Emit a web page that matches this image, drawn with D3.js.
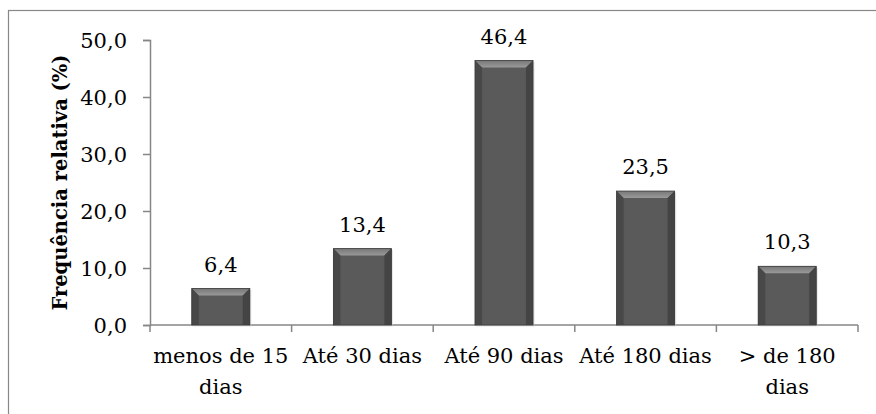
<!DOCTYPE html>
<html>
<head>
<meta charset="utf-8">
<script src="https://cdn.jsdelivr.net/npm/d3@7"></script>
<style>
  body { margin: 0; background: #fff; }
</style>
</head>
<body>
<div id="chart"></div>
<script>
// data
const categories = ['menos de 15 dias', 'Até 30 dias', 'Até 90 dias', 'Até 180 dias', '> de 180 dias']
const categoryLines = [['menos de 15', 'dias'], ['Até 30 dias'], ['Até 90 dias'], ['Até 180 dias'], ['> de 180', 'dias']]
const values = [6.4, 13.4, 46.4, 23.5, 10.3]
const yTicks = [0, 10, 20, 30, 40, 50]
const yTitle = 'Frequência relativa (%)'

const FONT = '"DejaVu Serif", serif'
const dimensions = {
  width: 876,
  height: 414,
  margin: { top: 40, right: 18, bottom: 89, left: 150 }
}
const AXIS_COLOR = '#868686'
const fmt = d => d.toFixed(1).replace('.', ',')

const wrapper = d3.select('#chart').append('svg')
  .attr('width', dimensions.width)
  .attr('height', dimensions.height)
  .style('font-family', FONT)

// outer chart border (only left / top visible in the crop)
wrapper.append('rect')
  .attr('x', 8.5).attr('y', 10.5)
  .attr('width', 900).attr('height', 450)
  .attr('fill', 'none')
  .attr('stroke', '#888')
  .attr('stroke-width', 1.2)

const innerW = dimensions.width - dimensions.margin.left - dimensions.margin.right
const innerH = dimensions.height - dimensions.margin.top - dimensions.margin.bottom

const bounds = wrapper.append('g')
  .attr('transform', `translate(${dimensions.margin.left}, ${dimensions.margin.top})`)

const xScale = d3.scaleBand()
  .domain(categories)
  .range([0, innerW])
  .padding(0)
const yScale = d3.scaleLinear()
  .domain([0, 50])
  .range([innerH, 0])

// gradients for the bevel look
const defs = wrapper.append('defs')
const topGrad = defs.append('linearGradient').attr('id', 'topBevel')
  .attr('x1', 0).attr('y1', 0).attr('x2', 0).attr('y2', 1)
topGrad.append('stop').attr('offset', '0%').attr('stop-color', '#777')
topGrad.append('stop').attr('offset', '100%').attr('stop-color', '#9a9a9a')
const bodyGrad = defs.append('linearGradient').attr('id', 'bodyGrad')
  .attr('x1', 0).attr('y1', 0).attr('x2', 1).attr('y2', 0)
bodyGrad.append('stop').attr('offset', '0%').attr('stop-color', '#4c4c4c')
bodyGrad.append('stop').attr('offset', '15%').attr('stop-color', '#5a5a5a')
bodyGrad.append('stop').attr('offset', '85%').attr('stop-color', '#5a5a5a')
bodyGrad.append('stop').attr('offset', '100%').attr('stop-color', '#4c4c4c')

// y axis
const yAxis = bounds.append('g')
  .call(d3.axisLeft(yScale).tickValues(yTicks).tickFormat(fmt).tickSize(7).tickPadding(16))
yAxis.attr('font-family', null).attr('font-size', null)
yAxis.select('.domain').attr('stroke', AXIS_COLOR).attr('stroke-width', 1.5)
yAxis.selectAll('.tick line').attr('stroke', AXIS_COLOR).attr('stroke-width', 1.5)
yAxis.selectAll('.tick text')
  .style('font-family', FONT)
  .style('font-size', '21px')
  .attr('fill', '#000')
  .attr('dy', '0.35em')

// x axis: baseline + boundary ticks
const xAxis = bounds.append('g').attr('transform', `translate(0, ${innerH})`)
xAxis.append('line')
  .attr('x1', 0).attr('x2', innerW)
  .attr('stroke', AXIS_COLOR).attr('stroke-width', 1.5)
const boundaries = categories.map(c => xScale(c)).concat([innerW])
xAxis.selectAll('.xtick')
  .data(boundaries)
  .join('line')
  .attr('class', 'xtick')
  .attr('x1', d => d).attr('x2', d => d)
  .attr('y1', 0).attr('y2', 7)
  .attr('stroke', AXIS_COLOR).attr('stroke-width', 1.5)

xAxis.selectAll('.xlabel')
  .data(categories)
  .join('text')
  .attr('class', 'xlabel')
  .attr('text-anchor', 'middle')
  .style('font-family', FONT)
  .style('font-size', '21px')
  .each(function (d, i) {
    const t = d3.select(this)
    categoryLines[i].forEach((line, j) => {
      t.append('tspan')
        .attr('x', xScale(d) + xScale.bandwidth() / 2)
        .attr('y', 38 + j * 31)
        .text(line)
    })
  })

// bars
const barW = xScale.bandwidth() * 0.41
const bev = 7
const bars = bounds.selectAll('.bar')
  .data(values)
  .join('g')
  .attr('class', 'bar')
  .attr('transform', (d, i) => `translate(${xScale(categories[i]) + (xScale.bandwidth() - barW) / 2}, ${yScale(d)})`)

bars.append('rect')
  .attr('x', 1.5).attr('y', 1.5)
  .attr('width', barW).attr('height', d => innerH - yScale(d))
  .attr('fill', '#c8c8c8').attr('opacity', 0.5)
bars.append('rect')
  .attr('width', barW).attr('height', d => innerH - yScale(d))
  .attr('fill', 'url(#bodyGrad)')
bars.append('path')
  .attr('d', `M0,0 L${barW},0 L${barW - bev},${bev} L${bev},${bev} Z`)
  .attr('fill', 'url(#topBevel)')
bars.append('path')
  .attr('d', d => `M0,0 L${bev},${bev} L${bev},${innerH - yScale(d)} L0,${innerH - yScale(d)} Z`)
  .attr('fill', '#484848')
bars.append('path')
  .attr('d', d => `M${barW},0 L${barW - bev},${bev} L${barW - bev},${innerH - yScale(d)} L${barW},${innerH - yScale(d)} Z`)
  .attr('fill', '#444')
bars.append('rect')
  .attr('width', barW).attr('height', d => innerH - yScale(d))
  .attr('fill', 'none').attr('stroke', '#3c3c3c').attr('stroke-width', 0.8)

// value labels
bounds.selectAll('.val')
  .data(values)
  .join('text')
  .attr('class', 'val')
  .attr('x', (d, i) => xScale(categories[i]) + xScale.bandwidth() / 2)
  .attr('y', d => yScale(d) - 17)
  .attr('text-anchor', 'middle')
  .style('font-family', FONT)
  .style('font-size', '21px')
  .text(fmt)

// y title
wrapper.append('text')
  .attr('transform', `translate(67, ${dimensions.margin.top + innerH / 2}) rotate(-90)`)
  .attr('text-anchor', 'middle')
  .style('font-family', FONT)
  .style('font-size', '19.5px')
  .style('font-weight', 'bold')
  .text(yTitle)
</script>
</body>
</html>
